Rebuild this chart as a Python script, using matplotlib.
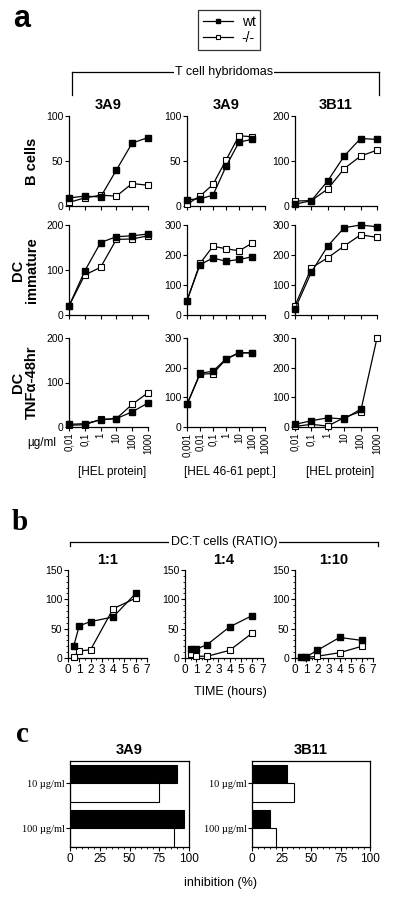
import numpy as np
import matplotlib
matplotlib.use("Agg")
import matplotlib.pyplot as plt
from matplotlib.ticker import FixedLocator, NullLocator, MultipleLocator

plt.rcParams.update({
    'font.family': ['Liberation Sans', 'DejaVu Sans'],
    'font.size': 7,
    'axes.linewidth': 0.9,
    'xtick.major.width': 0.8,
    'ytick.major.width': 0.8,
    'xtick.major.size': 3,
    'ytick.major.size': 3,
    'xtick.minor.size': 1.5,
    'ytick.minor.size': 1.5,
})

W, H = 400, 899

# ---- panel a data ----
dose_prot = [0.01, 0.1, 1, 10, 100, 1000]
dose_pept = [0.001, 0.01, 0.1, 1, 10, 100]

col_titles = ["3A9", "3A9", "3B11"]
row_labels = ["B cells", "DC\nimmature", "DC\nTNF\u03b1-48hr"]

# wt / ko values, rows = B cells, DC immature, DC TNFa
a_wt = [
    [[9, 11, 10, 40, 70, 76], [7, 8, 12, 44, 71, 74], [4, 12, 56, 111, 150, 148]],
    [[20, 98, 161, 174, 176, 180], [48, 168, 190, 179, 185, 194], [20, 143, 230, 291, 300, 294]],
    [[6, 7.5, 16, 19, 34, 54], [76, 181, 188, 230, 250, 250], [9, 21, 31, 27, 60, np.nan]],
]
a_ko = [
    [[4, 9, 12, 11, 25, 23], [2, 11, 24, 51, 78, 77], [11, 12, 38, 83, 111, 124]],
    [[20, 89, 106, 168, 169, 176], [48, 172, 229, 221, 214, 239], [31, 157, 191, 230, 267, 259]],
    [[4, 5, 17, 19, 51, 77], [76, 178, 180, 228, 250, 250], [2, 9, 3, 32, 52, 300]],
]
a_yticks = [
    [[0, 50, 100], [0, 50, 100], [0, 100, 200]],
    [[0, 100, 200], [0, 100, 200, 300], [0, 100, 200, 300]],
    [[0, 100, 200], [0, 100, 200, 300], [0, 100, 200, 300]],
]
prot_labels = ["0,01", "0,1", "1", "10", "100", "1000"]
pept_labels = ["0,001", "0,01", "0,1", "1", "10", "100", "1000"]
bottom_labels = ["[HEL protein]", "[HEL 46-61 pept.]", "[HEL protein]"]

# ---- panel b data ----
time_h = [0.5, 1, 2, 4, 6]
ratio_titles = ["1:1", "1:4", "1:10"]
b_wt = [[20, 55, 62, 70, 110], [16, 15, 23, 53, 72], [2, 2, 13, 35, 30]]
b_ko = [[2, 12, 14, 84, 102], [7, 3, 3, 13, 42], [1, 1, 3, 9, 20]]

# ---- panel c data ----
conc_labels = ["10 \u00b5g/ml", "100 \u00b5g/ml"]
c_titles = ["3A9", "3B11"]
c_wt = [[90, 96], [30, 15]]
c_ko = [[75, 87], [36, 20]]

fig = plt.figure(figsize=(W / 100, H / 100), dpi=100)


def px_axes(x0, y0, x1, y1):
    return fig.add_axes([x0 / W, 1 - y1 / H, (x1 - x0) / W, (y1 - y0) / H])


def plot_pair(ax, x, wt, ko):
    l2, = ax.plot(x, ko, '-', color='black', lw=0.9, marker='s', ms=3.8,
                  mfc='white', mec='black', mew=0.8, clip_on=False, zorder=3)
    l1, = ax.plot(x, wt, '-', color='black', lw=0.9, marker='s', ms=3.8,
                  mfc='black', mec='black', clip_on=False, zorder=4)
    return l1, l2


# overlay for brackets and free text
ov = fig.add_axes([0, 0, 1, 1], zorder=-1)
ov.set_xlim(0, W)
ov.set_ylim(H, 0)
ov.axis('off')

# ---------- panel a ----------
col_x = [(69, 148), (187, 265), (295, 377)]
row_y = [(116, 206), (225, 315), (338, 427)]
handles = None
for r in range(3):
    for c in range(3):
        ax = px_axes(col_x[c][0], row_y[r][0], col_x[c][1], row_y[r][1])
        x = dose_pept if c == 1 else dose_prot
        h = plot_pair(ax, x, a_wt[r][c], a_ko[r][c])
        if handles is None:
            handles = h
        ax.set_xscale('log')
        if c == 1:
            ax.set_xlim(0.001, 1000)
            ax.xaxis.set_major_locator(FixedLocator([0.001, 0.01, 0.1, 1, 10, 100, 1000]))
        else:
            ax.set_xlim(0.01, 1000)
            ax.xaxis.set_major_locator(FixedLocator(dose_prot))
        ax.xaxis.set_minor_locator(NullLocator())
        yt = a_yticks[r][c]
        ax.set_ylim(0, yt[-1])
        ax.set_yticks(yt)
        ax.spines['top'].set_visible(False)
        ax.spines['right'].set_visible(False)
        ax.tick_params(labelsize=7.5, pad=1)
        if r == 2:
            ax.set_xticklabels(pept_labels if c == 1 else prot_labels,
                               rotation=90, fontsize=7)
        else:
            ax.set_xticklabels([])
        if r == 0:
            ax.set_title(col_titles[c], fontsize=10.5, fontweight='bold', pad=5)
        if c == 0:
            ax.set_ylabel(row_labels[r], fontsize=10.5, fontweight='bold',
                          labelpad=5, linespacing=1.0)

ov.text(22, 19, "a", fontsize=22, fontweight='bold', ha='center', va='center')
ov.plot([72, 379], [72, 72], color='black', lw=0.9)
ov.plot([72, 72], [72, 95], color='black', lw=0.9)
ov.plot([379, 379], [72, 95], color='black', lw=0.9)
ov.text(224, 72, "T cell hybridomas", fontsize=9, ha='center', va='center',
        bbox=dict(fc='white', ec='none', pad=1))
ov.text(42, 443, "\u00b5g/ml", fontsize=8.5, ha='center', va='center')
for c, lab in enumerate(bottom_labels):
    ov.text((col_x[c][0] + col_x[c][1]) / 2 + 4, 472, lab, fontsize=8.5,
            ha='center', va='center')

fig.legend(handles, ["wt", "-/-"], loc='upper left',
           bbox_to_anchor=(198 / W, 1 - 10 / H), frameon=True, fancybox=False,
           edgecolor='black', fontsize=10, handlelength=2.2, borderpad=0.35,
           labelspacing=0.15, handletextpad=0.6, markerscale=0.8,
           borderaxespad=0).get_frame().set_linewidth(0.9)

# ---------- panel b ----------
bcol_x = [(68, 147), (185, 263), (295, 373)]
for c in range(3):
    ax = px_axes(bcol_x[c][0], 570, bcol_x[c][1], 658)
    plot_pair(ax, time_h, b_wt[c], b_ko[c])
    ax.set_xlim(0, 7)
    ax.set_ylim(0, 150)
    ax.set_xticks(range(8))
    ax.set_yticks([0, 50, 100, 150])
    ax.xaxis.set_minor_locator(MultipleLocator(0.5))
    ax.yaxis.set_minor_locator(MultipleLocator(10))
    ax.spines['top'].set_visible(False)
    ax.spines['right'].set_visible(False)
    ax.tick_params(labelsize=7.5, pad=1)
    ax.tick_params(axis='x', labelsize=8.5)
    ax.set_title(ratio_titles[c], fontsize=10.5, fontweight='bold', pad=4)

ov.text(20, 522, "b", fontsize=21, fontweight='bold', family='Liberation Serif',
        ha='center', va='center')
ov.plot([70, 378], [542, 542], color='black', lw=0.9)
ov.plot([70, 70], [542, 546], color='black', lw=0.9)
ov.plot([378, 378], [542, 546], color='black', lw=0.9)
ov.text(224, 542, "DC:T cells (RATIO)", fontsize=9, ha='center', va='center',
        bbox=dict(fc='white', ec='none', pad=1))
ov.text(230, 692, "TIME (hours)", fontsize=9, ha='center', va='center')

# ---------- panel c ----------
ccol_x = [(70, 189), (252, 370)]
ypos = np.arange(len(conc_labels))
for c in range(2):
    ax = px_axes(ccol_x[c][0], 761, ccol_x[c][1], 847)
    ax.barh(ypos - 0.2, c_wt[c], height=0.4, color='black', edgecolor='black', lw=0.8)
    ax.barh(ypos + 0.21, c_ko[c], height=0.42, color='white', edgecolor='black', lw=0.8)
    ax.set_xlim(0, 100)
    ax.set_ylim(1.42, -0.49)
    ax.set_xticks([0, 25, 50, 75, 100])
    ax.xaxis.set_minor_locator(MultipleLocator(5))
    ax.set_yticks(ypos)
    ax.set_yticklabels(conc_labels, family='Liberation Serif', fontsize=7.5)
    ax.tick_params(axis='x', labelsize=8.5, pad=1)
    ax.tick_params(axis='y', pad=1)
    ax.set_title(c_titles[c], fontsize=10.5, fontweight='bold', pad=5)

ov.text(22, 734, "c", fontsize=21, fontweight='bold', family='Liberation Serif',
        ha='center', va='center')
ov.text(220, 883, "inhibition (%)", fontsize=9, ha='center', va='center')

fig.savefig("out.png", dpi=100)
